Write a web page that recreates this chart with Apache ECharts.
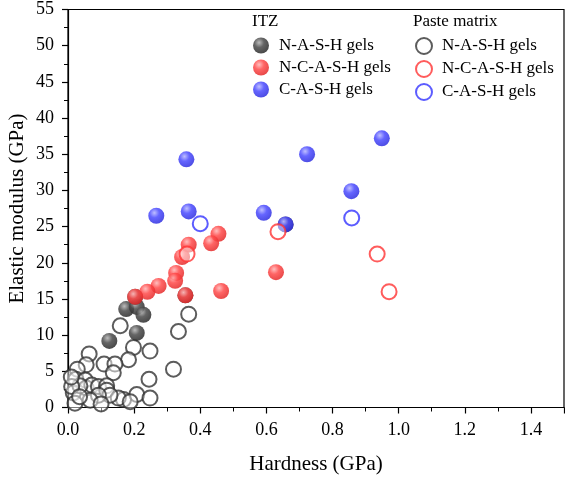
<!DOCTYPE html>
<html>
<head>
<meta charset="utf-8">
<script src="https://cdn.jsdelivr.net/npm/echarts@6/dist/echarts.min.js"></script>
<style>html,body{margin:0;padding:0;background:#fff}#c{width:565px;height:480px}</style>
</head>
<body>
<div id="c"></div>
<script>
// ---- data: [hardness (GPa), elastic modulus (GPa)] ----
var pasteNASH = [
  [0.365,12.9],[0.334,10.5],[0.158,11.3],[0.198,8.3],[0.248,7.8],[0.183,6.6],[0.319,5.3],
  [0.064,7.4],[0.055,5.9],[0.028,5.3],[0.109,6.0],[0.142,6.0],[0.137,4.8],[0.024,3.9],
  [0.052,3.8],[0.055,2.7],[0.072,3.1],[0.092,2.9],[0.117,3.0],[0.117,2.4],[0.245,3.9],
  [0.208,1.8],[0.248,1.3],[0.168,1.1],[0.152,1.3],[0.188,0.8],[0.127,1.7],[0.092,1.7],
  [0.016,2.0],[0.021,0.6],[0.067,1.0],[0.036,3.0],[0.011,2.9],[0.035,1.5],[0.100,0.5],[0.010,4.2]
];
var itzNASH = [
  [0.125,9.2],[0.176,13.6],[0.208,13.9],[0.228,12.8],[0.208,10.3],
  [0.203,15.3],[0.355,15.5],[0.658,25.3]
];
var itzNCASH = [
  [0.455,24.0],[0.433,22.7],[0.365,22.5],[0.345,20.8],[0.327,18.6],[0.324,17.5],
  [0.274,16.8],[0.240,16.0],[0.203,15.3],[0.355,15.5],[0.629,18.7],[0.463,16.1]
];
var itzCASH = [
  [0.358,34.3],[0.723,35.0],[0.949,37.2],[0.857,29.9],[0.365,27.1],[0.592,26.9],
  [0.267,26.5],[0.658,25.3]
];
var pasteNCASH = [[0.360,21.2],[0.635,24.3],[0.935,21.2],[0.971,16.0]];
var pasteCASH = [[0.400,25.4],[0.858,26.2]];

var gelNames = ['N-A-S-H gels','N-C-A-S-H gels','C-A-S-H gels'];
var groupTitles = ['ITZ','Paste matrix'];

var FONT = 'Liberation Serif, Times New Roman, serif';

function ball(c0, c1, c2) {
  return new echarts.graphic.RadialGradient(0.38, 0.32, 0.68, [
    {offset: 0, color: c0}, {offset: 0.45, color: c1}, {offset: 1, color: c2}
  ]);
}
var ballBlack = ball('#b0b0b0', '#4a4a4a', '#2a2a2a');
var ballRed = ball('#ffb3b3', '#ff4a4a', '#e52a2a');
var ballBlue = ball('#b3b3ff', '#4a4aff', '#2f2fe0');

function filled(name, data, grad) {
  return {
    name: name, type: 'scatter', data: data, symbol: 'circle', symbolSize: 16,
    itemStyle: {color: grad, opacity: 0.85},
    emphasis: {disabled: true}
  };
}
function hollow(name, data, stroke) {
  return {
    name: name, type: 'scatter', data: data, symbol: 'circle', symbolSize: 15,
    itemStyle: {color: 'rgba(255,255,255,0.6)', borderColor: stroke, borderWidth: 2},
    emphasis: {disabled: true}
  };
}

var itzNames = gelNames.map(function (g) { return 'ITZ|' + g; });
var pasteNames = gelNames.map(function (g) { return 'Paste|' + g; });

var chart = echarts.init(document.getElementById('c'), null, {renderer: 'canvas'});
chart.setOption({
  animation: false,
  backgroundColor: '#fff',
  grid: {left: 68, right: 1, top: 9.5, bottom: 72.5, show: true, borderColor: '#000', borderWidth: 1.2,
    backgroundColor: 'transparent', containLabel: false, outerBoundsMode: 'none'},
  title: [
    {text: groupTitles[0], left: 252, top: 13, padding: 0, textStyle: {fontFamily: FONT, fontSize: 17, fontWeight: 'normal', color: '#000'}},
    {text: groupTitles[1], left: 413, top: 13, padding: 0, textStyle: {fontFamily: FONT, fontSize: 17, fontWeight: 'normal', color: '#000'}}
  ],
  legend: [
    {
      left: 253, top: 37, orient: 'vertical', padding: 0, itemGap: 5, itemWidth: 26, itemHeight: 16,
      selectedMode: false,
      textStyle: {fontFamily: FONT, fontSize: 17, color: '#000'},
      formatter: function (n) { return n.split('|')[1]; },
      data: [
        {name: itzNames[0], icon: 'circle', itemStyle: {color: ballBlack, borderWidth: 0}},
        {name: itzNames[1], icon: 'circle', itemStyle: {color: ballRed, borderWidth: 0}},
        {name: itzNames[2], icon: 'circle', itemStyle: {color: ballBlue, borderWidth: 0}}
      ]
    },
    {
      left: 415, top: 37, orient: 'vertical', padding: 0, itemGap: 5, itemWidth: 26, itemHeight: 16,
      selectedMode: false,
      textStyle: {fontFamily: FONT, fontSize: 17, color: '#000'},
      formatter: function (n) { return n.split('|')[1]; },
      data: [
        {name: pasteNames[0], icon: 'circle', itemStyle: {color: '#fff', borderColor: '#333', borderWidth: 2}},
        {name: pasteNames[1], icon: 'circle', itemStyle: {color: '#fff', borderColor: '#ff3333', borderWidth: 2}},
        {name: pasteNames[2], icon: 'circle', itemStyle: {color: '#fff', borderColor: '#3333ff', borderWidth: 2}}
      ]
    }
  ],
  xAxis: {
    type: 'value', min: 0, max: 1.5, interval: 0.2,
    name: 'Hardness (GPa)', nameLocation: 'middle', nameGap: 46, nameMoveOverlap: false,
    nameTextStyle: {fontFamily: FONT, fontSize: 21, color: '#000'},
    axisLine: {lineStyle: {color: '#000', width: 1.2}},
    axisTick: {show: true, inside: false, length: 6, lineStyle: {color: '#000', width: 1.2}},
    minorTick: {show: true, splitNumber: 2, length: 4, lineStyle: {color: '#000', width: 1}},
    axisLabel: {fontFamily: FONT, fontSize: 18, color: '#000', margin: 14, showMaxLabel: false,
      formatter: function (v) { return v.toFixed(1); }},
    splitLine: {show: false}
  },
  yAxis: {
    type: 'value', min: 0, max: 55, interval: 5,
    name: 'Elastic modulus (GPa)', nameLocation: 'middle', nameGap: 40, nameMoveOverlap: false,
    nameTextStyle: {fontFamily: FONT, fontSize: 21, color: '#000'},
    axisLine: {lineStyle: {color: '#000', width: 1.2}},
    axisTick: {show: true, inside: false, length: 6, lineStyle: {color: '#000', width: 1.2}},
    minorTick: {show: true, splitNumber: 2, length: 4, lineStyle: {color: '#000', width: 1}},
    axisLabel: {fontFamily: FONT, fontSize: 18, color: '#000', margin: 14},
    splitLine: {show: false}
  },
  series: [
    hollow(pasteNames[0], pasteNASH, '#333333'),
    filled(itzNames[0], itzNASH, ballBlack),
    filled(itzNames[1], itzNCASH, ballRed),
    filled(itzNames[2], itzCASH, ballBlue),
    hollow(pasteNames[1], pasteNCASH, '#ff3333'),
    hollow(pasteNames[2], pasteCASH, '#3333ff')
  ]
});
</script>
</body>
</html>
